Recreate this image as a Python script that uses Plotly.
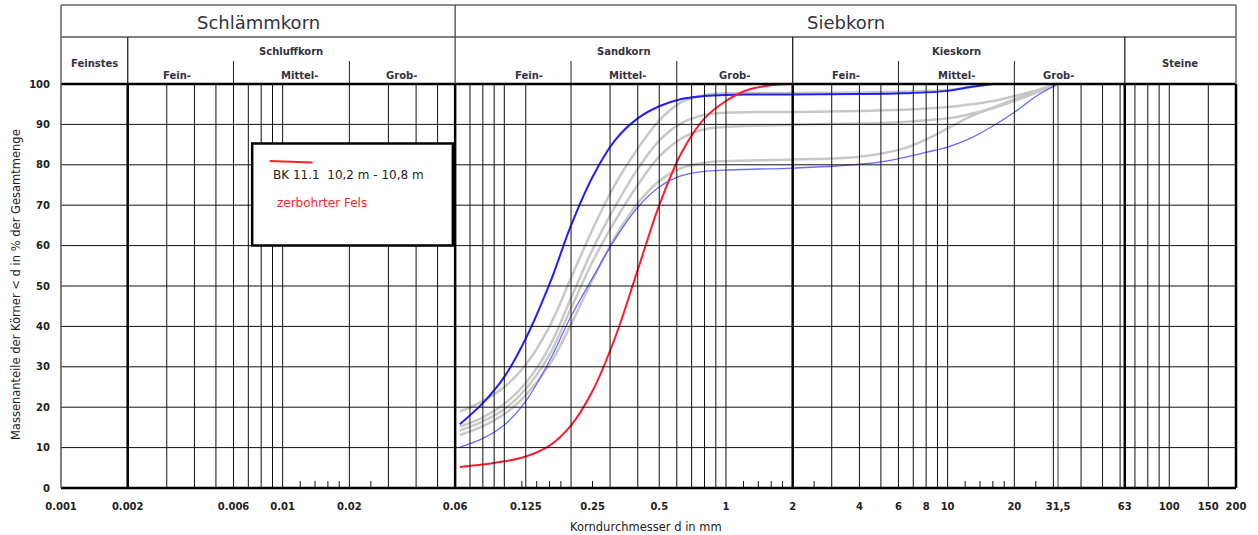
import math
import plotly.graph_objects as go

# ---------------- data (grain size in mm, passing in %) ----------------
red_d = [0.063, 0.08, 0.1, 0.125, 0.16, 0.2, 0.25, 0.315, 0.4, 0.5, 0.63, 0.8, 1.0, 1.25, 1.6, 2.0]
red_p = [5.2, 5.8, 6.6, 7.8, 10.5, 15.5, 24.0, 37.0, 54.0, 70.0, 83.0, 91.5, 95.8, 98.5, 99.7, 100.0]

blue_d = [0.063, 0.08, 0.1, 0.125, 0.16, 0.2, 0.25, 0.315, 0.4, 0.5, 0.63, 0.8, 1.0, 1.25, 2.0, 4.0, 6.3, 10.0, 12.5, 16.0]
blue_p = [15.8, 21.0, 27.5, 37.0, 50.5, 65.0, 77.0, 86.0, 91.5, 94.5, 96.3, 97.0, 97.3, 97.4, 97.4, 97.5, 97.7, 98.3, 99.2, 100.0]

blue2_d = [0.063, 0.08, 0.1, 0.125, 0.16, 0.2, 0.25, 0.315, 0.4, 0.5, 0.63, 0.8, 1.0, 2.0, 3.15, 5.0, 8.0, 10.0, 12.5, 16.0, 20.0, 25.0, 31.5]
blue2_p = [10.1, 12.3, 15.6, 21.5, 31.5, 42.5, 52.0, 61.5, 69.5, 74.5, 77.3, 78.4, 78.7, 79.2, 79.7, 80.7, 83.1, 84.4, 86.4, 89.6, 93.0, 96.9, 100.0]

grayA_d = [0.063, 0.08, 0.1, 0.125, 0.16, 0.2, 0.25, 0.315, 0.4, 0.5, 0.63, 0.8, 1.0, 2.0, 4.0, 6.3, 10.0, 12.5, 16.0]
grayA_p = [18.9, 21.5, 25.0, 30.5, 40.0, 52.0, 64.0, 75.0, 84.0, 91.0, 95.5, 97.3, 97.7, 97.8, 97.9, 98.1, 98.5, 99.2, 100.0]

grayB_d = [0.063, 0.08, 0.1, 0.125, 0.16, 0.2, 0.25, 0.315, 0.4, 0.5, 0.63, 0.8, 1.0, 2.0, 4.0, 6.3, 10.0, 12.5, 16.0, 20.0, 25.0, 31.5]
grayB_p = [15.2, 17.5, 20.8, 26.0, 35.0, 47.0, 59.0, 69.5, 79.0, 86.0, 90.3, 92.4, 92.9, 93.1, 93.3, 93.6, 94.3, 94.9, 95.8, 97.0, 98.4, 100.0]

grayC_d = [0.063, 0.08, 0.1, 0.125, 0.16, 0.2, 0.25, 0.315, 0.4, 0.5, 0.63, 0.8, 1.0, 2.0, 4.0, 6.3, 10.0, 12.5, 16.0, 20.0, 25.0, 31.5]
grayC_p = [14.2, 16.5, 19.5, 24.5, 33.0, 44.5, 56.0, 66.0, 75.0, 82.0, 86.5, 88.8, 89.4, 89.9, 90.2, 90.6, 91.5, 92.5, 94.0, 95.8, 97.8, 100.0]

grayD_d = [0.063, 0.08, 0.1, 0.125, 0.16, 0.2, 0.25, 0.315, 0.4, 0.5, 0.63, 0.8, 1.0, 2.0, 4.0, 6.3, 8.0, 10.0, 12.5, 16.0, 20.0, 25.0, 31.5]
grayD_p = [13.1, 15.3, 18.3, 23.0, 30.5, 40.5, 51.5, 62.0, 70.5, 76.0, 79.2, 80.5, 80.9, 81.3, 82.0, 84.0, 86.3, 89.0, 91.8, 94.2, 96.2, 98.2, 100.0]

x_tickvals = [0.001, 0.002, 0.006, 0.01, 0.02, 0.06, 0.125, 0.25, 0.5, 1, 2, 4, 6, 8, 10, 20, 31.5, 63, 100, 150, 200]
x_ticktext = ["0.001", "0.002", "0.006", "0.01", "0.02", "0.06", "0.125", "0.25", "0.5", "1", "2", "4", "6", "8", "10", "20", "31,5", "63", "100", "150", "200"]
y_tickvals = [0, 10, 20, 30, 40, 50, 60, 70, 80, 90, 100]

# grid positions
thin_v = [0.003, 0.004, 0.005, 0.006, 0.007, 0.008, 0.009, 0.01, 0.02, 0.03, 0.04, 0.05,
          0.07, 0.08, 0.09, 0.1, 0.125, 0.2, 0.3, 0.4, 0.5, 0.6, 0.7, 0.8, 0.9, 1,
          3, 4, 5, 6, 7, 8, 9, 10, 20, 30, 40, 50, 60, 70, 80, 90, 100, 150]
thick_v = [0.002, 0.06, 2, 63]
small_ticks = [0.012, 0.014, 0.016, 0.018, 0.025, 0.12, 0.14, 0.16, 0.18, 0.25,
               1.2, 1.4, 1.6, 1.8, 2.5, 12, 14, 16, 18, 25]

# ---------------- layout geometry ----------------
W, H = 1258, 535
ML, MR, MT, MB = 61, 20, 84, 47
PW = W - ML - MR
PH = H - MT - MB
LMIN, LMAX = math.log10(0.001), math.log10(200)
FONT = "DejaVu Sans"
TXT = "#333340"


def xp(d):
    return (math.log10(d) - LMIN) / (LMAX - LMIN)


def pxx(px):
    return (px - ML) / PW


def pxy(py):
    return (H - MB - py) / PH


shapes = []


def vline(x, y0, y1, color="black", width=1, layer="above"):
    shapes.append(dict(type="line", xref="paper", yref="paper", x0=x, x1=x, y0=y0, y1=y1,
                       line=dict(color=color, width=width), layer=layer))


def hline(y, x0, x1, color="black", width=1, layer="above"):
    shapes.append(dict(type="line", xref="paper", yref="paper", x0=x0, x1=x1, y0=y, y1=y,
                       line=dict(color=color, width=width), layer=layer))


# plot grid (drawn over the curves, as in the original)
for v in thin_v:
    vline(xp(v), 0, 1, "#111", 1)
vline(xp(31.5), 0, 1, "#9a9a9a", 2)
for v in y_tickvals[1:-1]:
    hline(v / 100, 0, 1, "#111", 1)
for v in small_ticks:
    vline(xp(v), 0, 7 / PH, "#111", 1)
for v in thick_v:
    vline(xp(v), 0, 1, "black", 2.5)
hline(0, 0, 1, "black", 2.5)
hline(1, 0, 1, "black", 2.5)
vline(0, 0, 1, "#555", 1.5)
vline(1, 0, 1, "black", 2.5)

# header frame
yt = pxy(5)
ym = pxy(37)
ys = pxy(61)
hline(yt, 0, 1, "#666", 1.5)
hline(ym, 0, 1, "#555", 1.3)
vline(0, 1, yt, "#666", 1.5)
vline(1, 1, yt, "#666", 1.5)
vline(xp(0.06), 1, yt, "#444", 1.3)
for v in [0.002, 2, 63]:
    vline(xp(v), 1, ym, "#222", 1.3)
for v in [0.006, 0.02, 0.2, 0.6, 6, 20]:
    vline(xp(v), 1, ys, "#222", 1)

# legend box
shapes.append(dict(type="rect", xref="paper", yref="paper",
                   x0=pxx(252.5), x1=pxx(453.5), y0=pxy(245.5), y1=pxy(143.5),
                   line=dict(color="black", width=2.5), fillcolor="white", layer="above"))
shapes.append(dict(type="line", xref="paper", yref="paper",
                   x0=pxx(270), x1=pxx(313), y0=pxy(161), y1=pxy(162.5),
                   line=dict(color="#ff2020", width=2), layer="above"))

annotations = []


def label(text, px, py, size, bold=False, color=TXT, xanchor="center", angle=0):
    annotations.append(dict(text=("<b>%s</b>" % text) if bold else text,
                            xref="paper", yref="paper", x=pxx(px), y=pxy(py),
                            xanchor=xanchor, yanchor="middle", showarrow=False,
                            textangle=angle,
                            font=dict(family=FONT, size=size, color=color)))


label("Schlämmkorn", 258.5, 22, 18)
label("Siebkorn", 847, 22, 18)
label("Feinstes", 94.5, 64, 10, True)
label("Schluffkorn", 291.5, 52, 10, True)
label("Fein-", 177, 75, 10, True)
label("Mittel-", 300, 75, 10, True)
label("Grob-", 402, 75, 10, True)
label("Sandkorn", 625, 52, 10, True)
label("Fein-", 530, 75, 10, True)
label("Mittel-", 628, 75, 10, True)
label("Grob-", 736, 75, 10, True)
label("Kieskorn", 958, 52, 10, True)
label("Fein-", 847, 75, 10, True)
label("Mittel-", 958, 75, 10, True)
label("Grob-", 1060, 75, 10, True)
label("Steine", 1181.5, 64, 10, True)

label("BK 11.1  10,2 m - 10,8 m", 271, 175, 12, False, "#222", "left")
label("zerbohrter Fels", 275, 203, 12, False, "#ff2030", "left")

label("Korndurchmesser d in mm", 647, 527, 11.5, False, "#222")
label("Massenanteile der Körner &lt; d in % der Gesamtmenge", 16, 285, 11.5, False, "#222", angle=-90)

fig = go.Figure()


def add(d, p, color, width):
    fig.add_trace(go.Scatter(x=d, y=p, mode="lines", hoverinfo="skip", showlegend=False,
                             line=dict(color=color, width=width, shape="spline", smoothing=1.0)))


gray = "#c8c8c8"
add(grayD_d, grayD_p, gray, 2.5)
add(grayC_d, grayC_p, gray, 2.5)
add(grayB_d, grayB_p, gray, 2.5)
add(grayA_d, grayA_p, gray, 2.5)
add(blue2_d, blue2_p, "rgba(70,70,255,0.8)", 1.3)
add(blue_d, blue_p, "#2020ff", 2)
add(red_d, red_p, "#ff1a2e", 2)

fig.update_layout(
    width=W, height=H,
    margin=dict(l=ML, r=MR, t=MT, b=MB, pad=0),
    paper_bgcolor="white", plot_bgcolor="white",
    shapes=shapes, annotations=annotations,
    font=dict(family=FONT, color="#222"),
    xaxis=dict(type="log", range=[LMIN, LMAX], showgrid=False, zeroline=False, showline=False,
               tickmode="array", tickvals=x_tickvals, ticktext=x_ticktext,
               ticks="outside", ticklen=9, tickcolor="rgba(0,0,0,0)",
               tickfont=dict(family=FONT, size=10, color="#222", weight="bold")),
    yaxis=dict(range=[0, 100], showgrid=False, zeroline=False, showline=False,
               tickmode="array", tickvals=y_tickvals,
               ticks="outside", ticklen=8, tickcolor="rgba(0,0,0,0)",
               tickfont=dict(family=FONT, size=10, color="#222", weight="bold")),
)

fig.write_html("out.html")
